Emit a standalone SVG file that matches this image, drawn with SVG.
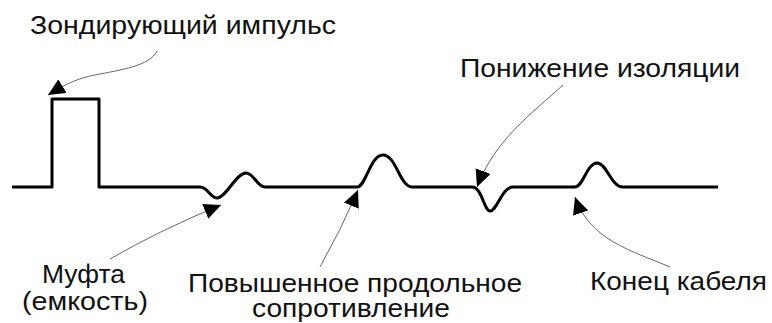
<svg xmlns="http://www.w3.org/2000/svg" width="772" height="323" viewBox="0 0 772 323">
<defs>
<style>
.lbl{font-family:"Liberation Sans",Arial,sans-serif;font-size:26px;fill:#111;}
.sig{fill:none;stroke:#000;stroke-width:3;stroke-linejoin:round;}
.ptr{fill:none;stroke:#666;stroke-width:1;}
</style>
<marker id="ah" markerUnits="userSpaceOnUse" markerWidth="18" markerHeight="16" refX="17" refY="8" orient="auto">
<path d="M0,0 L17,8 L0,16 z" fill="#000"/>
</marker>
</defs>
<rect width="772" height="323" fill="#fff"/>
<g id="signal">
<path class="sig" d="M12,187 H52 V99 H99 V187 H200 C208,187 210,198 217,198 C226,198 236,173 246,173 C254,173 257,187 265,187 H357 C366,187 370,155 383,155 C396,155 400,187 412,187 H472 C482,187 484,211 490,211 C497,211 502,187 513,187 H575 C583,187 587,163 597,163 C607,163 611,187 623,187 H718"/>
</g>
<g id="connectors">
<path class="ptr" d="M157,51 C150,66 120,70 95,75 C78,78 66,84 48,95" marker-end="url(#ah)"/>
<path class="ptr" d="M110,259 Q160,230 221,205" marker-end="url(#ah)"/>
<path class="ptr" d="M320,267 Q341,230 358,190" marker-end="url(#ah)"/>
<path class="ptr" d="M563,85 C530,115 495,140 477,187" marker-end="url(#ah)"/>
<path class="ptr" d="M670,267 C630,250 590,240 575,197" marker-end="url(#ah)"/>
</g>
<g id="probe">
<text class="lbl" x="30" y="34" textLength="306" lengthAdjust="spacingAndGlyphs">Зондирующий импульс</text>
</g>
<g id="insulation">
<text class="lbl" x="460" y="77" textLength="280" lengthAdjust="spacingAndGlyphs">Понижение изоляции</text>
</g>
<g id="coupling">
<text class="lbl" x="42" y="283" textLength="83" lengthAdjust="spacingAndGlyphs">Муфта</text>
<text class="lbl" x="22" y="310" textLength="126" lengthAdjust="spacingAndGlyphs">(емкость)</text>
</g>
<g id="resistance">
<text class="lbl" x="188" y="292" textLength="334" lengthAdjust="spacingAndGlyphs">Повышенное продольное</text>
<text class="lbl" x="252" y="317" textLength="198" lengthAdjust="spacingAndGlyphs">сопротивление</text>
</g>
<g id="cable-end">
<text class="lbl" x="590" y="290" textLength="177" lengthAdjust="spacingAndGlyphs">Конец кабеля</text>
</g>
</svg>
